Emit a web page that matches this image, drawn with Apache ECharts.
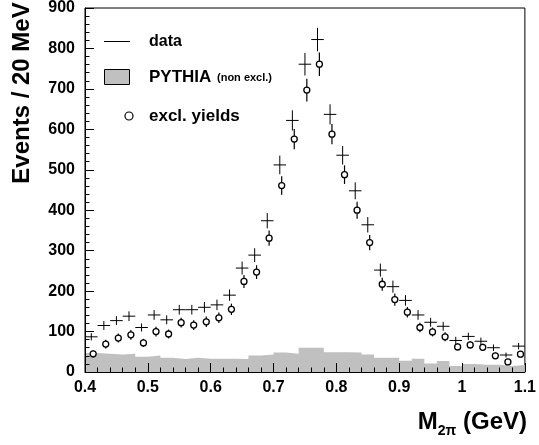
<!DOCTYPE html>
<html>
<head>
<meta charset="utf-8">
<script src="https://cdn.jsdelivr.net/npm/echarts@6/dist/echarts.min.js"></script>
<style>
html,body{margin:0;padding:0;background:#fff;}
#chart{width:539px;height:445px;}
</style>
</head>
<body>
<div id="chart"></div>
<script>
// Bin centres (GeV), 20 MeV bins from 0.40 to 1.10
const binCenters = [0.41,0.43,0.45,0.47,0.49,0.51,0.53,0.55,0.57,0.59,0.61,0.63,0.65,0.67,0.69,
  0.71,0.73,0.75,0.77,0.79,0.81,0.83,0.85,0.87,0.89,0.91,0.93,0.95,0.97,0.99,1.01,1.03,1.05,1.07,1.09];
// data (crosses)
const dataCounts = [87,115,127,138,110,141,129,154,154,160,166,190,257,289,374,
  512,622,761,822,637,536,448,364,252,211,177,141,123,113,78,88,76,60,42,64];
// statistical errors
const dataErr = [9,11,11,12,10,12,11,12,12,13,13,14,16,17,19,
  23,25,28,29,25,23,21,19,16,15,13,12,11,11,9,9,9,8,6,8];
// exclusive yields (open circles)
const exclYields = [45,69,84,92,72,100,94,122,116,124,134,155,224,247,331,
  461,576,697,761,588,488,400,320,217,179,148,110,99,87,62,67,61,40,25,44];
// PYTHIA (non excl.) histogram
const pythia = [47,45,43,45,38,41,35,32,35,33,33,33,32,41,43,
  48,45,60,60,49,49,48,43,35,35,28,33,21,27,15,20,18,18,15,17];
const xTicks = [0.4,0.5,0.6,0.7,0.8,0.9,1.0,1.1];
const yTicks = [0,100,200,300,400,500,600,700,800,900];

const halfBin = 0.01;
const circleShift = 0.003;
const FONT = '"Liberation Sans", Arial, Helvetica, sans-serif';

const histData = binCenters.map((c,i)=>[c-halfBin, pythia[i]]);
histData.push([binCenters[binCenters.length-1]+halfBin, pythia[pythia.length-1]]);

const crossData = binCenters.map((c,i)=>[c, dataCounts[i], dataErr[i]]);
const circleData = binCenters.map((c,i)=>[c+circleShift, exclYields[i], dataErr[i]]);

const chart = echarts.init(document.getElementById('chart'), null, {renderer:'canvas'});

const axisCommon = {
  z: 10,
  axisLine:{show:true, lineStyle:{color:'#000', width:1}},
  axisTick:{show:true, inside:true, length:9, lineStyle:{color:'#000', width:1}},
  minorTick:{show:true, splitNumber:5, length:4.5, lineStyle:{color:'#000', width:1}},
  splitLine:{show:false},
  minorSplitLine:{show:false},
  axisLabel:{color:'#000', fontFamily:FONT, fontWeight:'bold', fontSize:16}
};

chart.setOption({
  animation:false,
  backgroundColor:'#fff',
  grid:{left:85, right:11, top:5, bottom:73, show:true, borderColor:'#000', borderWidth:1, backgroundColor:'transparent'},
  xAxis: Object.assign({}, axisCommon, {
    type:'value', min:xTicks[0], max:xTicks[xTicks.length-1], interval:0.1,
    axisLabel:Object.assign({}, axisCommon.axisLabel, {margin:8})
  }),
  yAxis: Object.assign({}, axisCommon, {
    type:'value', min:yTicks[0], max:yTicks[yTicks.length-1], interval:100,
    axisLabel:Object.assign({}, axisCommon.axisLabel, {margin:10})
  }),
  series:[
    {
      name:'PYTHIA', type:'line', step:'end', data:histData, z:1,
      showSymbol:false, symbol:'none',
      lineStyle:{width:0, color:'#c0c0c0'},
      areaStyle:{color:'#c0c0c0', opacity:1}
    },
    {
      name:'excl err', type:'custom', z:3, clip:true,
      data:circleData,
      renderItem:function(params, api){
        const x = api.value(0), y = api.value(1), e = api.value(2);
        const t = api.coord([x, y+e]), b = api.coord([x, y-e]);
        return {type:'line', shape:{x1:t[0], y1:t[1], x2:b[0], y2:b[1]},
          style:{stroke:'#000', lineWidth:1.2}};
      }
    },
    {
      name:'excl. yields', type:'scatter', z:4,
      data:circleData.map(d=>[d[0], d[1]]),
      symbol:'circle', symbolSize:6,
      itemStyle:{color:'#fff', borderColor:'#000', borderWidth:1.3, opacity:1}
    },
    {
      name:'data', type:'custom', z:5, clip:true,
      data:crossData,
      renderItem:function(params, api){
        const x = api.value(0), y = api.value(1), e = api.value(2);
        const t = api.coord([x, y+e]), b = api.coord([x, y-e]);
        const l = api.coord([x-halfBin, y]), r = api.coord([x+halfBin, y]);
        return {type:'group', children:[
          {type:'line', shape:{x1:t[0], y1:t[1], x2:b[0], y2:b[1]}, style:{stroke:'#000', lineWidth:1}},
          {type:'line', shape:{x1:l[0], y1:l[1], x2:r[0], y2:r[1]}, style:{stroke:'#000', lineWidth:1}}
        ]};
      }
    }
  ],
  graphic:[
    // legend
    {type:'line', shape:{x1:104, y1:41.5, x2:130, y2:41.5}, style:{stroke:'#000', lineWidth:1}},
    {type:'text', x:149, y:42, style:{text:'data', font:'bold 16px '+FONT, fill:'#000', verticalAlign:'middle'}},
    {type:'rect', shape:{x:104.5, y:69.5, width:25, height:15}, style:{fill:'#c0c0c0', stroke:'#000', lineWidth:1}},
    {type:'text', x:149, y:77, style:{text:'PYTHIA', font:'bold 17px '+FONT, fill:'#000', verticalAlign:'middle'}},
    {type:'text', x:217, y:78, style:{text:'(non excl.)', font:'bold 11px '+FONT, fill:'#000', verticalAlign:'middle'}},
    {type:'circle', shape:{cx:129, cy:116, r:4}, style:{fill:'#fff', stroke:'#000', lineWidth:1.2}},
    {type:'text', x:149, y:116, style:{text:'excl. yields', font:'bold 17px '+FONT, fill:'#000', verticalAlign:'middle'}},
    // y title
    {type:'text', x:22, y:93, rotation:Math.PI/2,
      style:{text:'Events / 20 MeV', font:'bold 24px '+FONT, fill:'#000', align:'center', verticalAlign:'middle'}},
    // x title
    {type:'text', right:12, top:410,
      style:{text:'{m|M}{s|2π}{m| (GeV)}', fill:'#000',
        rich:{
          m:{fontFamily:FONT, fontWeight:'bold', fontSize:24, lineHeight:28, verticalAlign:'top'},
          s:{fontFamily:FONT, fontWeight:'bold', fontSize:14, lineHeight:10, verticalAlign:'bottom'}
        }}}
  ]
});
</script>
</body>
</html>
